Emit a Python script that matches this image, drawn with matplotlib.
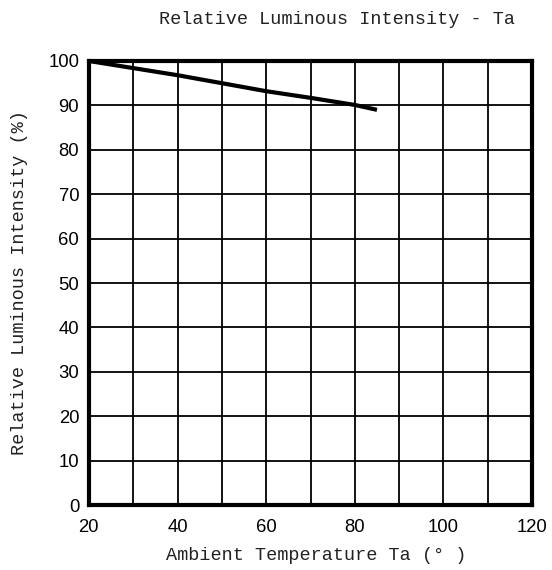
import matplotlib
matplotlib.use("Agg")
import matplotlib.pyplot as plt

# curve
temp = [20, 30, 40, 50, 60, 70, 80, 85]
intensity = [100, 98.4, 96.8, 95.0, 93.2, 91.7, 90.1, 89.0]

x_ticks = [20, 40, 60, 80, 100, 120]
y_ticks = [0, 10, 20, 30, 40, 50, 60, 70, 80, 90, 100]

title = "Relative Luminous Intensity - Ta"
xlabel = "Ambient Temperature Ta (° )"
ylabel = "Relative Luminous Intensity (%)"

label_font = dict(family="Liberation Mono", size=13.3, color="#222222")

fig = plt.figure(figsize=(5.52, 5.7), dpi=100)
ax = fig.add_axes([0.161, 0.114, 0.803, 0.779])

ax.plot(temp, intensity, color="black", linewidth=3, solid_capstyle="butt", zorder=3)

ax.set_xlim(20, 120)
ax.set_ylim(0, 100)
ax.set_xticks(range(20, 121, 10), minor=True)
ax.set_xticks(x_ticks)
ax.set_yticks(y_ticks)
ax.grid(True, which="both", color="black", linewidth=1.3)
ax.tick_params(which="both", length=0, labelsize=13.3)
ax.tick_params(axis="x", pad=10)
ax.tick_params(axis="y", pad=7)
for lab in ax.get_xticklabels() + ax.get_yticklabels():
    lab.set_family("Liberation Sans")
for s in ax.spines.values():
    s.set_linewidth(3)
    s.set_zorder(4)

fig.text(337 / 552, 1 - 20 / 570, title, ha="center", va="center", **label_font)
fig.text(316 / 552, 1 - 555 / 570, xlabel, ha="center", va="center", **label_font)
fig.text(20 / 552, 1 - 283 / 570, ylabel, ha="center", va="center", rotation=90, **label_font)

fig.savefig("out.png", dpi=100)
